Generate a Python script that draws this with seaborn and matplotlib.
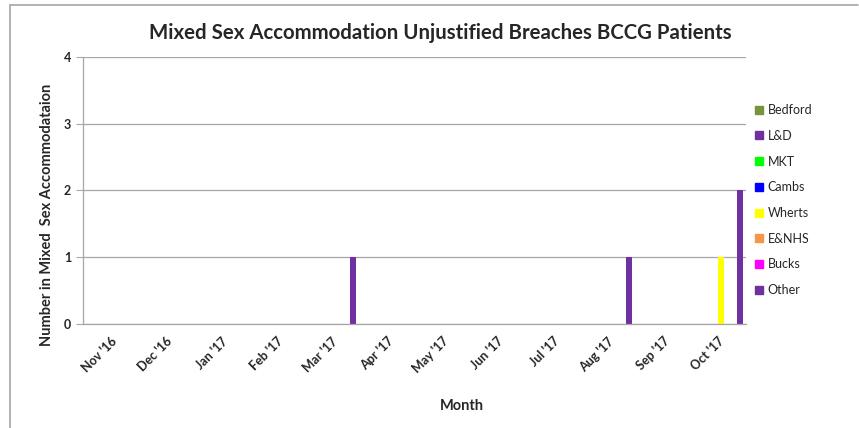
import matplotlib
matplotlib.use("Agg")
import matplotlib.pyplot as plt
import numpy as np
import pandas as pd
import seaborn as sns
from matplotlib.lines import Line2D

months = ["Nov '16", "Dec '16", "Jan '17", "Feb '17", "Mar '17", "Apr '17",
          "May '17", "Jun '17", "Jul '17", "Aug '17", "Sep '17", "Oct '17"]
series = ["Bedford", "L&D", "MKT", "Cambs", "Wherts", "E&NHS", "Bucks", "Other"]
colors = ["#77933C", "#7030A0", "#00FF00", "#0000FF", "#FFFF00", "#F79646", "#FF00FF", "#7030A0"]

bedford = [0, 0, 0, 0, 0, 0, 0, 0, 0, 0, 0, 0]
l_and_d = [0, 0, 0, 0, 0, 0, 0, 0, 0, 0, 0, 0]
mkt = [0, 0, 0, 0, 0, 0, 0, 0, 0, 0, 0, 0]
cambs = [0, 0, 0, 0, 0, 0, 0, 0, 0, 0, 0, 0]
wherts = [0, 0, 0, 0, 0, 0, 0, 0, 0, 0, 0, 1]
enhs = [0, 0, 0, 0, 0, 0, 0, 0, 0, 0, 0, 0]
bucks = [0, 0, 0, 0, 0, 0, 0, 0, 0, 0, 0, 0]
other = [0, 0, 0, 0, 1, 0, 0, 0, 0, 1, 0, 2]

values = [bedford, l_and_d, mkt, cambs, wherts, enhs, bucks, other]
rows = []
for name, vals in zip(series, values):
    for m, v in zip(months, vals):
        rows.append({"Month": m, "Site": name, "Count": v})
df = pd.DataFrame(rows)

sns.set_style("white")
plt.rcParams["font.family"] = ["Lato", "DejaVu Sans"]

fig = plt.figure(figsize=(8.59, 4.28), dpi=100)
ax = fig.add_axes([83 / 859, 1 - 324 / 428, (746 - 83) / 859, (324 - 57) / 428])

sns.barplot(data=df, x="Month", y="Count", hue="Site", order=months,
            hue_order=series, palette=colors, width=0.88, ax=ax,
            saturation=1, legend=False, linewidth=0)

grey = "#A6A6A6"
ax.set_ylim(0, 4)
ax.set_xlim(-0.5, len(months) - 0.5)
ax.set_yticks([0, 1, 2, 3, 4])
ax.yaxis.grid(True, color=grey, linewidth=0.9)
ax.set_axisbelow(True)
for s in ["top", "right"]:
    ax.spines[s].set_visible(False)
for s in ["left", "bottom"]:
    ax.spines[s].set_color(grey)
    ax.spines[s].set_linewidth(0.9)

ax.set_xticks(np.arange(len(months)))
ax.set_xticklabels(months, rotation=45, ha="right", rotation_mode="anchor",
                   fontsize=9, fontweight="bold")
ax.set_xticks(np.arange(len(months) + 1) - 0.5, minor=True)
ax.tick_params(axis="x", which="major", length=0, pad=8)
ax.tick_params(axis="x", which="minor", length=5, color=grey, direction="out")
ax.tick_params(axis="y", length=5, color=grey, direction="out", left=True)
for lab in ax.get_yticklabels():
    lab.set_fontweight("bold")
    lab.set_fontsize(9)
ax.set_xlabel("")
ax.set_ylabel("")

fig.text(440 / 859, 1 - 33 / 428, "Mixed Sex Accommodation Unjustified Breaches BCCG Patients",
         ha="center", va="center", fontsize=14.7, fontweight="bold")
fig.text(47 / 859, 1 - 215 / 428, "Number in Mixed  Sex Accommodataion",
         ha="center", va="center", rotation=90, fontsize=10.5, fontweight="bold")
fig.text(462 / 859, 1 - 406 / 428, "Month", ha="center", va="center",
         fontsize=10.5, fontweight="bold")

handles = [plt.Rectangle((0, 0), 1, 1, color=c) for c in colors]
fig.legend(handles, series, loc="upper left", bbox_to_anchor=(750 / 859, 1 - 99 / 428),
           frameon=False, fontsize=9, handlelength=0.6, handleheight=0.6,
           handletextpad=0.4, labelspacing=1.1, borderaxespad=0)

fig.add_artist(Line2D([10 / 859, 10 / 859], [0, 1 - 5 / 428], color=grey, linewidth=1.2))
fig.add_artist(Line2D([10 / 859, 858 / 859], [1 - 5 / 428, 1 - 5 / 428], color=grey, linewidth=1.2))

fig.savefig("out.png", dpi=100)
